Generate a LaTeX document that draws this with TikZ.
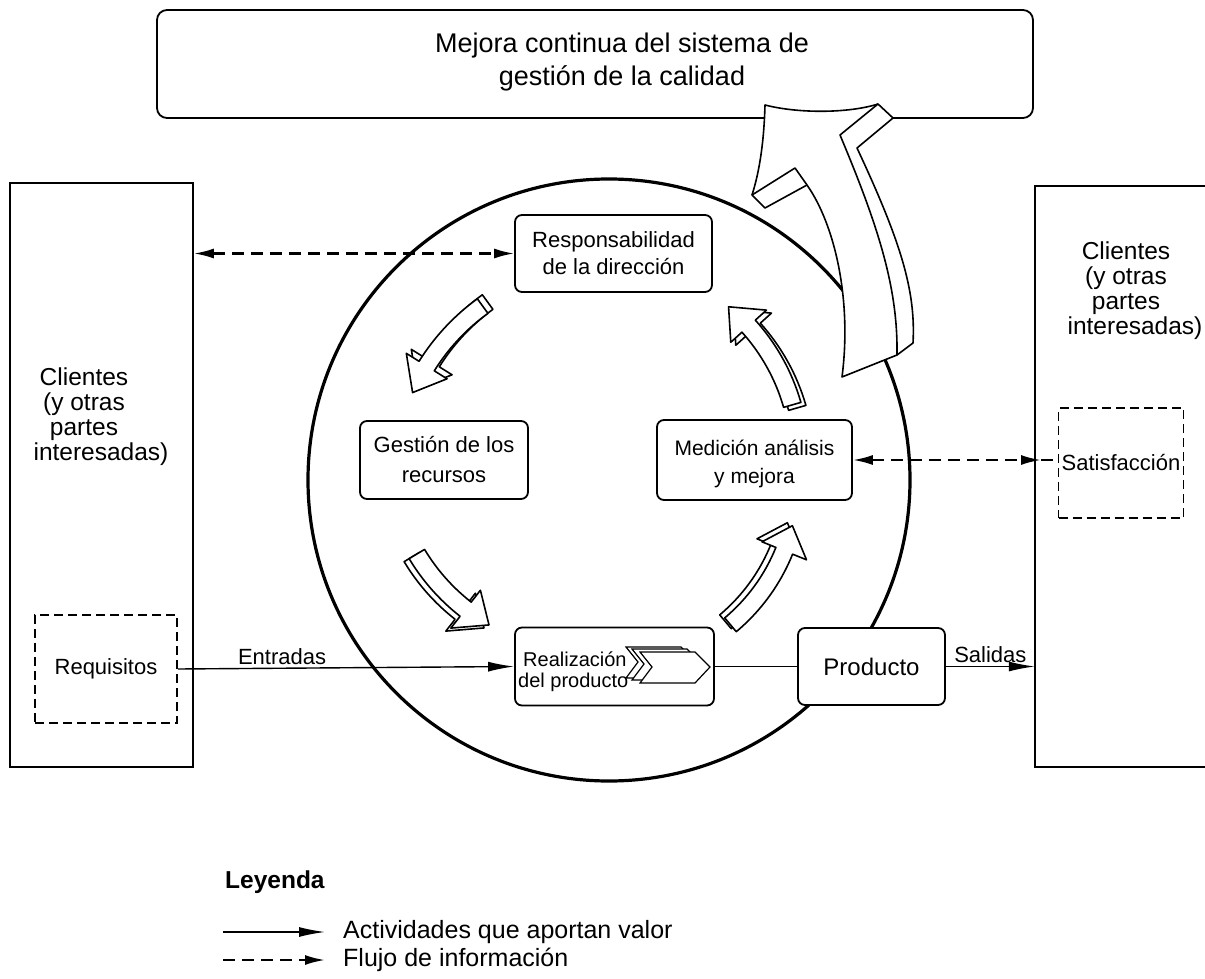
\documentclass[tikz,border=0pt]{standalone}
\usepackage{fontspec}
\setmainfont{Liberation Sans}
\usetikzlibrary{arrows.meta,calc}
\newcommand{\fsz}[2]{\fontsize{#1}{#2}\selectfont}
% curved block arrow outline: radius, start angle, end angle
\newcommand{\arcpath}[3]{(#2:#1+9) arc[start angle=#2, end angle=#3-8, radius=#1+9] -- (#3-8:#1+24) -- (#3:#1) -- (#3-8:#1-24) -- (#3-8:#1-9) arc[start angle=#3-8, end angle=#2, radius=#1-9] -- cycle}
% centre x, centre y, radius, start angle, end angle, depth dx, depth dy
\newcommand{\blockarr}[7]{%
  \begin{scope}[shift={(#1+#6,#2+#7)}, yscale=-1]
    \path[blockarrow] \arcpath{#3}{#4}{#5};
  \end{scope}
  \begin{scope}[shift={(#1,#2)}, yscale=-1]
    \path[blockarrow] \arcpath{#3}{#4}{#5};
  \end{scope}}
\begin{document}
\begin{tikzpicture}[x=1pt,y=-1pt,
  box/.style={draw, line width=1.8pt, rounded corners=7pt, fill=white, align=center, inner sep=0pt},
  sqbox/.style={draw, line width=1.8pt, fill=white, inner sep=0pt},
  dbox/.style={draw, line width=1.6pt, dash pattern=on 9pt off 5pt, inner sep=0pt},
  flow/.style={line width=1.4pt, -{Latex[length=26pt,width=10pt]}},
  info/.style={line width=2.2pt, dash pattern=on 12pt off 7pt, >={Latex[length=20pt,width=10pt]}},
  blockarrow/.style={draw, line width=1.6pt, fill=white, line join=round},
  txt/.style={inner sep=0pt, align=center},
]
\useasboundingbox (0,0) rectangle (1205,979);

% circle
\draw[line width=3.2pt] (609,480) circle[radius=301];

% top box
\node[box, rounded corners=10pt, minimum width=876pt, minimum height=108pt] (top) at (595,64) {};
\node[txt, font=\fsz{27}{33}] (toptxt) at (622,62) {Mejora continua del sistema de\\gestión de la calidad};

% left customer box
\node[sqbox, minimum width=183pt, minimum height=584pt] (lbox) at (101.5,475) {};
\node[txt, font=\fsz{24.5}{25}] (ltext) at (84,417) {Clientes\\(y otras\\partes\\\hspace*{34pt}interesadas)};
\node[dbox, minimum width=142pt, minimum height=108pt, font=\fsz{22}{26}] (req) at (106,669) {Requisitos};

% right customer box (open at the right edge)
\node[inner sep=0pt, minimum width=171pt, minimum height=581pt] (rbox) at (1120.5,476.5) {};
\draw[line width=1.8pt] (rbox.north east) -- (rbox.north west) -- (rbox.south west) -- (rbox.south east);
\node[txt, font=\fsz{24.5}{25}] (rtext) at (1126,291) {Clientes\\(y otras\\partes\\\hspace*{18pt}interesadas)};
\node[dbox, minimum width=125pt, minimum height=110pt, font=\fsz{22}{26}] (sat) at (1121,463) {Satisfacción};

% process boxes
\node[box, minimum width=197pt, minimum height=77pt, font=\fsz{22}{27}] (resp) at (613.5,253.5) {Responsabilidad\\de la dirección};
\node[box, minimum width=168pt, minimum height=78pt, font=\fsz{22}{30}] (gest) at (444,460) {Gestión de los\\recursos};
\node[box, minimum width=195pt, minimum height=80pt] (med) at (754.5,460) {};
\node[txt, font=\fsz{21}{28}] (medtxt) at (754.5,464) {Medición análisis\\y mejora};
\node[box, minimum width=199pt, minimum height=78pt] (real) at (614.5,666.5) {};
\node[inner sep=0pt, align=left, anchor=west, font=\fsz{20}{21}] (realtxt) at (518,672) {\hspace*{5pt}Realización\\del producto};
\node[box, minimum width=147pt, minimum height=77pt, font=\fsz{24}{28}] (prod) at (871.5,666.5) {Producto};

% chevrons
\foreach \dx/\dy in {-14/-5, -8/-3, 0/0}{
  \draw[line width=1.2pt, fill=white, line join=miter]
    (640+\dx,652+\dy) -- (695+\dx,652+\dy) -- (710+\dx,667+\dy) -- (695+\dx,683+\dy)
    -- (640+\dx,683+\dy) -- (652+\dx,667+\dy) -- cycle;
}

% big improvement arrow
\path[blockarrow]
  (765,105) .. controls (800,114) and (850,113) .. (878,104) -- (893,118) -- (857,148)
  .. controls (900,240) and (916,290) .. (913,343) -- (897,355) -- (842,377)
  .. controls (852,300) and (835,225) .. (807,185) -- (765,208) -- (752,195)
  .. controls (760,170) and (764,140) .. (765,105) -- cycle;
\draw[line width=1.6pt, line join=round] (878,104) -- (840,135) .. controls (880,230) and (898,290) .. (897,355);
\draw[line width=1.6pt, line join=round] (752,195) -- (795,168) -- (807,185);

% cycle arrows
\blockarr{609}{480}{215}{126}{156}{5}{-4}
\blockarr{590}{450}{202}{211}{240}{-5}{3}
\blockarr{609}{480}{189}{-50}{-14}{-5}{-3}
\blockarr{600}{460}{200}{16}{50}{5}{3}

% connectors
\draw[flow] (req.east) -- node[pos=0.31, above, inner sep=3pt, font=\fsz{22}{26}] {Entradas} (real.west);
\draw[line width=1.4pt] (real.east) -- (prod.west);
\draw[flow] (prod.east) -- node[midway, above, inner sep=3pt, font=\fsz{22}{26}] {Salidas} (prod.east -| rbox.west);
\draw[info, <->] (resp.west -| lbox.east) -- (resp.west);
\coordinate (stip) at (1041,462);
\draw[info, <->] (med.east) -- (stip |- med.east);
\draw[info] (stip |- med.east) -- (sat.west |- med.east);

% legend
\node[anchor=west, inner sep=0pt, font=\fsz{24.5}{28}\bfseries] (leg) at (225,882) {Leyenda};
\coordinate (l1a) at (223,932); \coordinate (l1b) at (325,932);
\coordinate (l2a) at (223,960); \coordinate (l2b) at (325,960);
\draw[flow] (l1a) -- (l1b);
\draw[info, ->] (l2a) -- (l2b);
\node[anchor=west, inner sep=0pt, font=\fsz{25}{28}] (l1t) at (343,932) {Actividades que aportan valor};
\node[anchor=west, inner sep=0pt, font=\fsz{25}{28}] (l2t) at (343,960) {Flujo de información};
\end{tikzpicture}
\end{document}
